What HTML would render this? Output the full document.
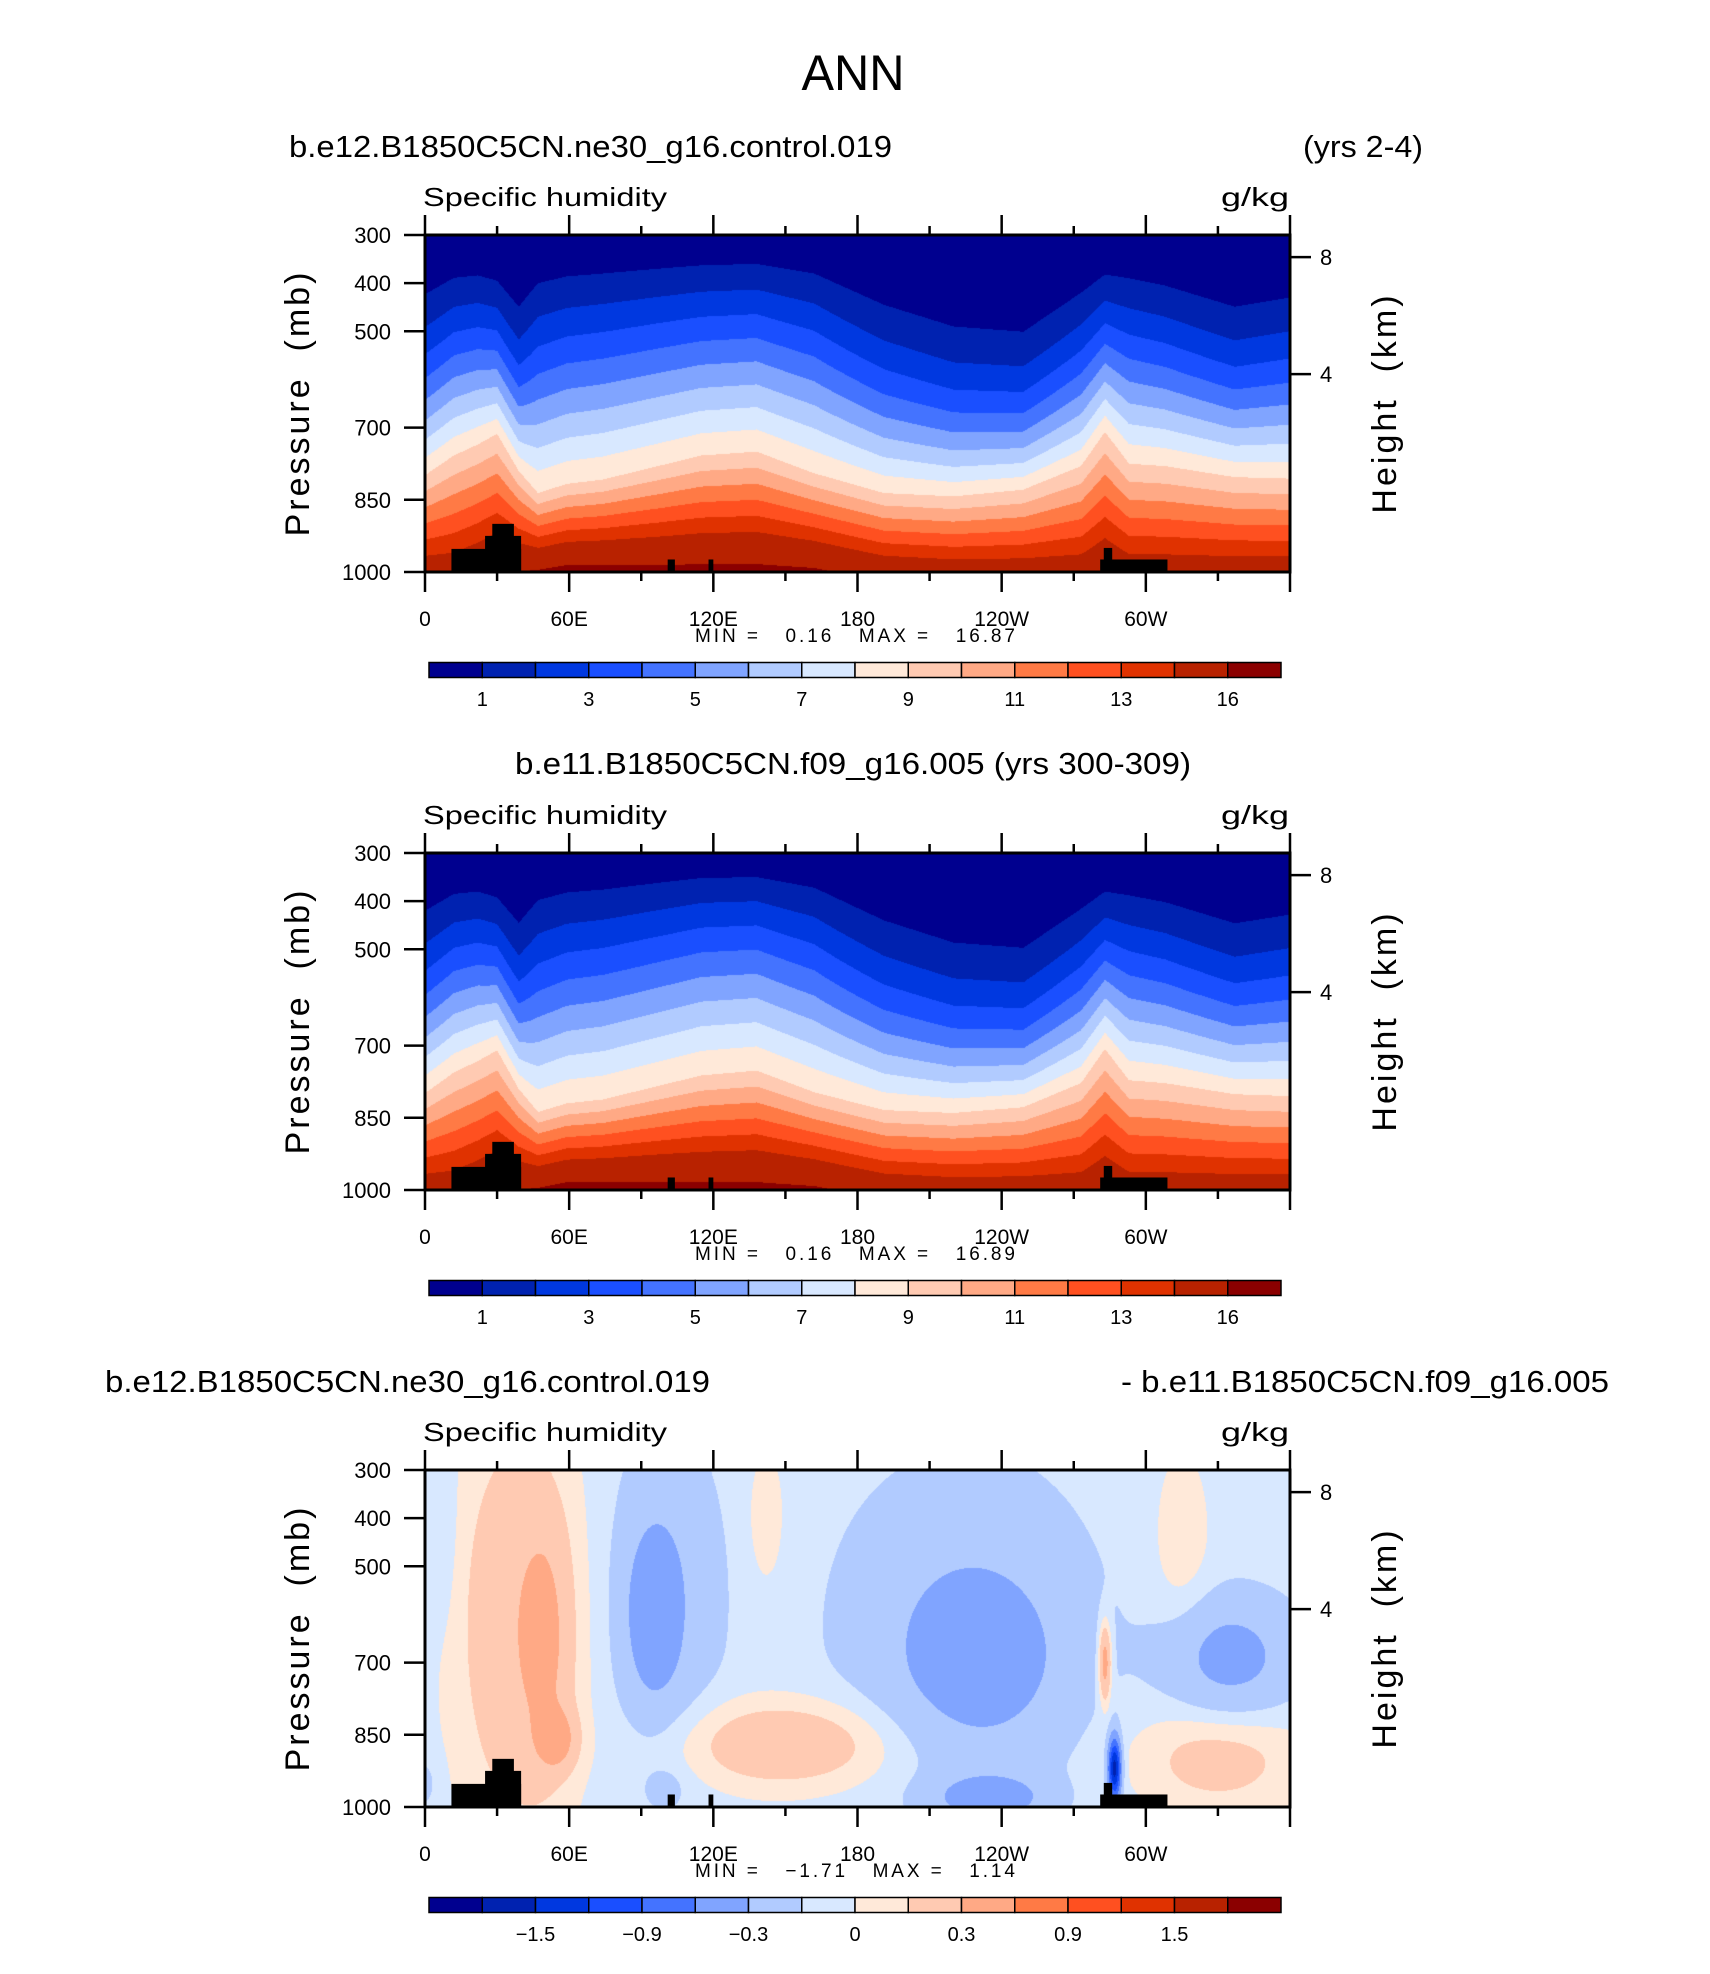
<!DOCTYPE html>
<html><head><meta charset="utf-8">
<style>
html,body{margin:0;padding:0;background:#fff;}
#wrap{position:relative;width:1710px;height:1974px;overflow:hidden;background:#fff;}
canvas{position:absolute;}
svg{position:absolute;left:0;top:0;}
text{font-family:"Liberation Sans",sans-serif;fill:#000;white-space:pre;}
</style></head>
<body>
<div id="wrap">
<canvas id="c1" width="865" height="337" style="left:425px;top:235px"></canvas>
<canvas id="c2" width="865" height="337" style="left:425px;top:853px"></canvas>
<canvas id="c3" width="865" height="337" style="left:425px;top:1470px"></canvas>
<svg id="ov" width="1710" height="1974">
<text x="853" y="90" font-size="50" text-anchor="middle" textLength="103" lengthAdjust="spacingAndGlyphs">ANN</text>
<text x="289" y="157" font-size="31" textLength="603" lengthAdjust="spacingAndGlyphs">b.e12.B1850C5CN.ne30_g16.control.019</text>
<text x="1303" y="157" font-size="31" textLength="120" lengthAdjust="spacingAndGlyphs">(yrs 2-4)</text>
<text x="853" y="774" font-size="31" text-anchor="middle" textLength="676" lengthAdjust="spacingAndGlyphs">b.e11.B1850C5CN.f09_g16.005 (yrs 300-309)</text>
<text x="105" y="1392" font-size="31" textLength="605" lengthAdjust="spacingAndGlyphs">b.e12.B1850C5CN.ne30_g16.control.019</text>
<text x="1609" y="1392" font-size="31" text-anchor="end" textLength="488" lengthAdjust="spacingAndGlyphs">- b.e11.B1850C5CN.f09_g16.005</text>
</svg>
</div>
<script>
// ---- data ----
const lonKnots = [0,12,22,30,39,47,59,74,97,115,138,162,191,220,249,273,283,293,308,337,360];
const p9Ctrl   = [799,758,735,713,790,836,817,808,780,758,750,795,836,843,829,780,709,775,780,803,806];
const p1Ctrl   = [423,389,384,395,449,400,386,380,370,363,360,380,445,490,501,420,382,390,405,449,430];
const qsCtrl   = [15,15,15.5,16,16,16.2,16.6,16.6,16.5,16.5,16.5,16.3,15.3,15,15,15,15.6,15,15,15,15];
const p9Ref    = [799,756,732,710,790,838,820,812,784,762,752,797,834,840,828,778,707,772,778,801,805];
const p1Ref    = [420,385,380,392,445,398,382,376,362,352,350,372,440,486,497,416,380,388,402,446,428];
const qsRef    = [15,15,15.5,16,16,16.2,16.7,16.7,16.6,16.5,16.5,16.3,15.3,15,15,15,15.6,15,15,15,15];
// difference anomalies: centre lon, centre p, lon width, p width, amplitude (g/kg)
const dLon  = [38,50,55,95,100,150,142,225,232,235,283,287,315,335,330,0,8,100];
const dP    = [620,650,860,600,560,870,400,620,700,980,700,920,450,690,900,950,430,960];
const dWl   = [26,10,8,11,22,45,8,48,32,22,2.5,2.5,12,26,35,6,6,8];
const dWp   = [450,230,60,170,320,90,150,300,170,45,80,60,200,120,110,60,200,40];
const dAmp  = [0.28,0.25,0.35,-0.32,-0.2,0.3,0.12,-0.22,-0.24,-0.4,0.5,-1.6,0.12,-0.35,0.22,-0.1,-0.08,-0.1];
const dBase = -0.05;
// topography: lon start, lon end, top pressure
const topoLon0 = [11,25,28,101,118,281,282.5];
const topoLon1 = [40,40,37,104,120,309,286];
const topoP    = [952,925,900,974,974,974,950];
const levelsQ   = [1,2,3,4,5,6,7,8,9,10,11,12,13,14,16];
const levelsD   = [-1.8,-1.5,-1.2,-0.9,-0.6,-0.3,-0.1,0,0.1,0.3,0.6,0.9,1.2,1.5,1.8];
const cbLabelsQ = ["1","3","5","7","9","11","13","16"];
const cbLabelsD = ["-1.5","-0.9","-0.3","0","0.3","0.9","1.5"];
const cbLabelIdxQ = [1,3,5,7,9,11,13,15];
const cbLabelIdxD = [2,4,6,8,10,12,14];
const colors = ["#00008f","#0022b0","#0038e0","#1a4fff","#4473ff","#80a4ff","#b1cbff","#d8e8ff","#ffe9d9","#ffcab2","#ffa985","#ff7a45","#ff5020","#e03200","#b82200","#8b0000"];
const lonTickVals = [0,60,120,180,240,300];
const lonTickLabels = ["0","60E","120E","180","120W","60W"];
const presTicks = [300,400,500,700,850,1000];
const hgtTicks = [8,4];
const hgtTickP = [346,589];
const minmax = [["0.16","16.87"],["0.16","16.89"],["\u22121.71","1.14"]];

const PX=425, PW=865, PH=337, tops=[235,853,1470];
const xOf = lon => PX + lon/360*PW;
const yOf = (p,t) => t + (p-300)/700*PH;
function interp(arr, lon){
  for(let i=0;i<lonKnots.length-1;i++){
    if(lon<=lonKnots[i+1]){const f=(lon-lonKnots[i])/(lonKnots[i+1]-lonKnots[i]);return arr[i]+(arr[i+1]-arr[i])*f;}
  }
  return arr[arr.length-1];
}
function qField(p9a,p1a,qsa){
  return (lon,p)=>{
    const p9=interp(p9a,lon), p1=interp(p1a,lon), qs=interp(qsa,lon);
    if(p>=p9) return 9+(qs-9)*(p-p9)/(1000-p9);
    const x9=(p9-300)/700, x1=(p1-300)/700, x=Math.max((p-300)/700,1e-4);
    const k=Math.log(9)/Math.log(x9/x1);
    return 9*Math.pow(x/x9,k);
  };
}
function dField(lon,p){
  let v=dBase;
  for(let i=0;i<dLon.length;i++){
    const a=(lon-dLon[i])/dWl[i], b=(p-dP[i])/dWp[i];
    v+=dAmp[i]*Math.exp(-(a*a+b*b));
  }
  return v;
}
const rgb = colors.map(c=>[parseInt(c.substr(1,2),16),parseInt(c.substr(3,2),16),parseInt(c.substr(5,2),16)]);
function paint(id,f,levels){
  const cv=document.getElementById(id),ctx=cv.getContext('2d');
  const img=ctx.createImageData(PW,PH);
  for(let j=0;j<PH;j++){
    const p=300+(j+0.5)/PH*700;
    for(let i=0;i<PW;i++){
      const lon=(i+0.5)/PW*360;
      const v=f(lon,p);
      let k=0; while(k<levels.length && v>=levels[k]) k++;
      const c=rgb[k], o=(j*PW+i)*4;
      img.data[o]=c[0];img.data[o+1]=c[1];img.data[o+2]=c[2];img.data[o+3]=255;
    }
  }
  ctx.putImageData(img,0,0);
}
paint('c1',qField(p9Ctrl,p1Ctrl,qsCtrl),levelsQ);
paint('c2',qField(p9Ref,p1Ref,qsRef),levelsQ);
paint('c3',dField,levelsD);

const NS="http://www.w3.org/2000/svg", ov=document.getElementById('ov');
function mk(tag,attrs,txt){const e=document.createElementNS(NS,tag);for(const k in attrs)e.setAttribute(k,attrs[k]);if(txt!==undefined)e.textContent=txt;ov.appendChild(e);return e;}

tops.forEach((t,pi)=>{
  const b=t+PH;
  for(let i=0;i<topoP.length;i++){
    const r=mk('rect',{x:xOf(topoLon0[i]),y:yOf(topoP[i],t),width:xOf(topoLon1[i])-xOf(topoLon0[i]),height:b-yOf(topoP[i],t),fill:'#000'});
    
    
  }
  const fr=mk('rect',{x:PX,y:t,width:PW,height:PH,fill:'none',stroke:'#000','stroke-width':3});
  
  
  const s1=mk('text',{x:423,y:t-29,'font-size':26,textLength:244,lengthAdjust:'spacingAndGlyphs'},'Specific humidity');
  
  
  const s2=mk('text',{x:1289,y:t-29,'font-size':26,'text-anchor':'end',textLength:68,lengthAdjust:'spacingAndGlyphs'},'g/kg');
  
  
  for(let lon=0;lon<=360;lon+=30){
    const major=lon%60===0, len=major?20:9, x=xOf(lon);
    const l1=mk('line',{x1:x,x2:x,y1:t,y2:t-len,stroke:'#000','stroke-width':2.5});
    
    
    const l2=mk('line',{x1:x,x2:x,y1:b,y2:b+len,stroke:'#000','stroke-width':2.5});
    
    
  }
  lonTickVals.forEach((v,i)=>{
    const tx=mk('text',{x:xOf(v),y:b+54,'font-size':21,'text-anchor':'middle'},lonTickLabels[i]);
    
    
  });
  presTicks.forEach(p=>{
    const y=yOf(p,t);
    const l=mk('line',{x1:PX-21,x2:PX,y1:y,y2:y,stroke:'#000','stroke-width':2.5});
    
    
    const tx=mk('text',{x:391,y:y+8,'font-size':22,'text-anchor':'end'},String(p));
    
    
  });
  hgtTicks.forEach((h,i)=>{
    const y=yOf(hgtTickP[i],t);
    const l=mk('line',{x1:PX+PW,x2:PX+PW+21,y1:y,y2:y,stroke:'#000','stroke-width':2.5});
    
    
    const tx=mk('text',{x:1320,y:y+8,'font-size':22},String(h));
    
    
  });
  const ya=mk('text',{x:0,y:0,'font-size':34,'text-anchor':'middle','letter-spacing':'3',transform:`translate(309,${t+168}) rotate(-90)`},'Pressure  (mb)');
  
  
  const ya2=mk('text',{x:0,y:0,'font-size':34,'text-anchor':'middle','letter-spacing':'3',transform:`translate(1396,${t+168}) rotate(-90)`},'Height  (km)');
  
  
  const mm=mk('text',{x:855,y:t+407,'font-size':19,'text-anchor':'middle',textLength:320,lengthAdjust:'spacing'},`MIN =   ${minmax[pi][0]}   MAX =   ${minmax[pi][1]}`);
  
  
  const cx0=429,cx1=1281,cy=t+427.5,ch=15,cw=(cx1-cx0)/16;
  colors.forEach((c,i)=>{
    const r=mk('rect',{x:cx0+i*cw,y:cy,width:cw,height:ch,fill:c,stroke:'#000','stroke-width':1.5});
    
    
  });
  const labs=pi<2?cbLabelsQ:cbLabelsD, idx=pi<2?cbLabelIdxQ:cbLabelIdxD;
  labs.forEach((s,i)=>{
    const tx=mk('text',{x:cx0+idx[i]*cw,y:t+471,'font-size':20,'text-anchor':'middle'},s.replace('-','\u2212'));
    
    
  });
});
</script>
</body></html>
